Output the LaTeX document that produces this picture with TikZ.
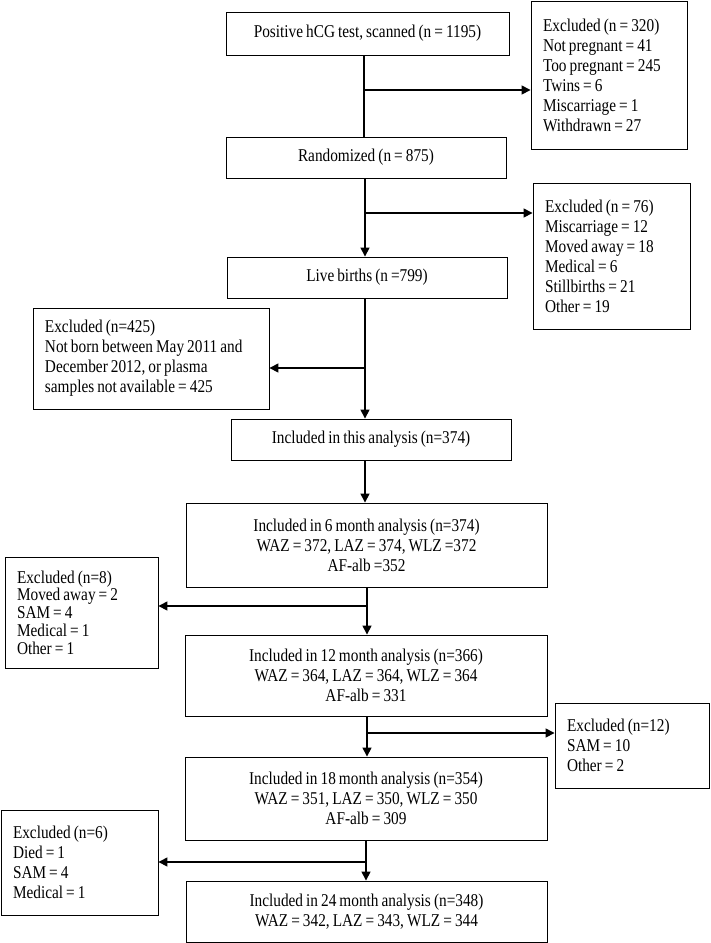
\documentclass[tikz,border=0pt]{standalone}
\usepackage{fontspec}
\setmainfont{Liberation Serif}[FakeStretch=0.85,WordSpace=0.8]
\usetikzlibrary{arrows.meta,calc}
\begin{document}
\begin{tikzpicture}[x=1pt,y=-1pt,
  txt/.style={font=\fontsize{18}{20}\selectfont},
  mainbox/.style={draw,line width=0.9pt,txt,align=center,inner sep=2pt},
  exbox/.style={draw,line width=0.9pt,txt,align=flush left,inner xsep=12pt,inner ysep=2pt},
  link/.style={line width=1.5pt},
  arr/.style={line width=1.5pt,-{Triangle[length=9pt,width=9pt]}}]
\useasboundingbox (0,0) rectangle (710,943);
% main column
\node[mainbox,minimum width=283pt,minimum height=43pt] (A) at (367.5,33.5) {Positive hCG test, scanned (n = 1195)};
\node[mainbox,minimum width=280pt,minimum height=41pt] (B) at (366,157.5) {Randomized (n = 875)};
\node[mainbox,minimum width=280pt,minimum height=41pt] (C) at (367,277.5) {Live births (n =799)};
\node[mainbox,minimum width=280pt,minimum height=41pt] (D) at (371,439.5) {Included in this analysis (n=374)};
\node[mainbox,minimum width=361pt,minimum height=84pt] (F6) at (366.5,545) {Included in 6 month analysis (n=374)\\WAZ = 372, LAZ = 374, WLZ =372\\AF-alb =352};
\node[mainbox,minimum width=362pt,minimum height=81pt] (F12) at (366,675.5) {Included in 12 month analysis (n=366)\\WAZ = 364, LAZ = 364, WLZ = 364\\AF-alb = 331};
\node[mainbox,minimum width=362pt,minimum height=83pt] (F18) at (366,798.5) {Included in 18 month analysis (n=354)\\WAZ = 351, LAZ = 350, WLZ = 350\\AF-alb = 309};
\node[mainbox,minimum width=361pt,minimum height=61pt] (F24) at (366.5,911.5) {Included in 24 month analysis (n=348)\\WAZ = 342, LAZ = 343, WLZ = 344};
% exclusion boxes
\node[exbox,text width=132pt,minimum height=148pt] (E1) at (609,75) {Excluded (n = 320)\\Not pregnant = 41\\Too pregnant = 245\\Twins = 6\\Miscarriage = 1\\Withdrawn = 27};
\node[exbox,text width=133pt,minimum height=146pt] (E2) at (611.5,256) {Excluded (n = 76)\\Miscarriage = 12\\Moved away = 18\\Medical = 6\\Stillbirths = 21\\Other = 19};
\node[exbox,text width=212pt,minimum height=101pt] (E3) at (151,358.5) {Excluded (n=425)\\\mbox{Not born between May 2011 and}\\\mbox{December 2012, or plasma}\\\mbox{samples not available = 425}};
\node[exbox,text width=129pt,minimum height=111pt,font=\fontsize{18}{17.7}\selectfont] (E4) at (81.5,612.5) {Excluded (n=8)\\Moved away = 2\\SAM = 4\\Medical = 1\\Other = 1};
\node[exbox,text width=130pt,minimum height=85pt] (E5) at (632,745.5) {Excluded (n=12)\\SAM = 10\\Other = 2};
\node[exbox,text width=133pt,minimum height=105pt] (E6) at (79.5,862.5) {Excluded (n=6)\\Died = 1\\SAM = 4\\Medical = 1};
% spine coordinates
\coordinate (s1) at (364,90);
\coordinate (s2) at (365,213);
\coordinate (s3) at (365,368);
\coordinate (s4) at (367,606);
\coordinate (s5) at (367,733);
\coordinate (s6) at (366,862);
% vertical connectors
\draw[link] (A.south -| s1) -- (B.north -| s1);
\draw[arr] (B.south -| s2) -- (C.north -| s2);
\draw[arr] (C.south -| s3) -- (D.north -| s3);
\draw[arr] (D.south -| s3) -- (F6.north -| s3);
\draw[arr] (F6.south -| s4) -- (F12.north -| s4);
\draw[arr] (F12.south -| s5) -- (F18.north -| s5);
\draw[arr] (F18.south -| s6) -- (F24.north -| s6);
% side connectors
\draw[arr] (s1) -- (s1 -| E1.west);
\draw[arr] (s2) -- (s2 -| E2.west);
\draw[arr] (s3) -- (s3 -| E3.east);
\draw[arr] (s4) -- (s4 -| E4.east);
\draw[arr] (s5) -- (s5 -| E5.west);
\draw[arr] (s6) -- (s6 -| E6.east);
\end{tikzpicture}
\end{document}
